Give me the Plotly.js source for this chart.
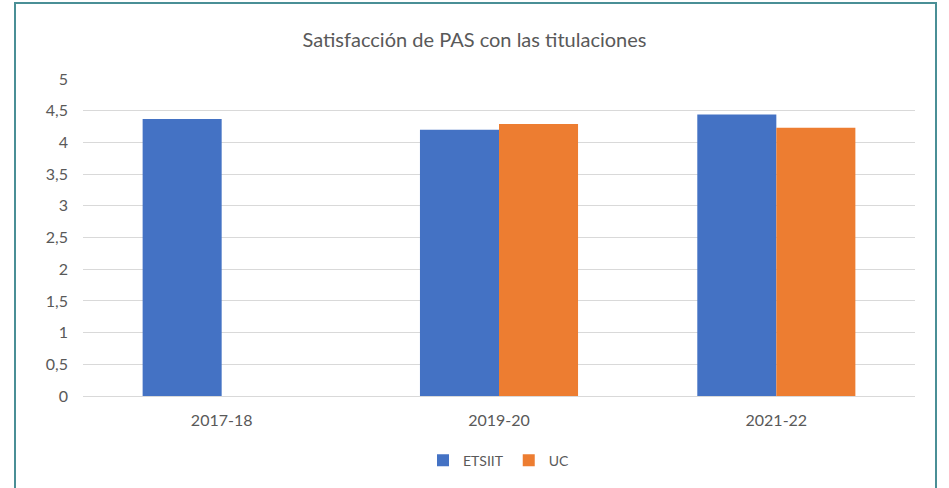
<!DOCTYPE html>
<html>
<head>
<meta charset="utf-8">
<script src="https://cdn.plot.ly/plotly-3.0.1.min.js"></script>
<style>
html,body{margin:0;padding:0;background:#fff;overflow:hidden;}
#chart{width:949px;height:488px;position:absolute;left:0;top:0;}
#frame{position:absolute;left:14px;top:2px;width:919px;height:520px;border:2px solid #4a8f96;pointer-events:none;}
</style>
</head>
<body>
<div id="chart"></div>
<div id="frame"></div>
<script>
const categories = ["2017-18", "2019-20", "2021-22"];
const etsiit = [4.37, 4.20, 4.44];
const uc = [null, 4.29, 4.23];
const yTicks = [0, 0.5, 1, 1.5, 2, 2.5, 3, 3.5, 4, 4.5, 5];

const font = "Lato, 'Open Sans', sans-serif";
const traces = [
  {type: "bar", name: "ETSIIT", x: categories, y: etsiit, marker: {color: "#4472c4"}, hoverinfo: "y"},
  {type: "bar", name: "UC", x: categories, y: uc, marker: {color: "#ed7d31"}, hoverinfo: "y"}
];
const layout = {
  width: 949, height: 488,
  margin: {l: 83, r: 34, t: 79, b: 90},
  paper_bgcolor: "#fff", plot_bgcolor: "#fff",
  separators: ",.",
  barmode: "group", bargap: 0.43, bargroupgap: 0,
  title: {text: "Satisfacción de PAS con las titulaciones", font: {family: font, size: 20, color: "#595959"},
          x: 0.5, xanchor: "center", y: 1 - 40/488, yanchor: "middle", yref: "container"},
  xaxis: {type: "category", tickfont: {family: font, size: 16, color: "#595959"}, showgrid: false,
          showline: true, linecolor: "#d9d9d9", linewidth: 1, ticks: "", ticklabelstandoff: 10},
  yaxis: {range: [0, 5], tickvals: yTicks, tickfont: {family: font, size: 16, color: "#595959"},
          showgrid: true, gridcolor: "#d9d9d9", gridwidth: 1, zeroline: false, showline: false, ticks: "",
          ticklabelstandoff: 14},
  legend: {orientation: "h", x: 0.5, xanchor: "center", y: (398 - 463) / 319, yanchor: "middle",
           font: {family: font, size: 14, color: "#595959"}, itemwidth: 30, tracegroupgap: 0},
  showlegend: true
};
Plotly.newPlot("chart", traces, layout, {displayModeBar: false, staticPlot: true});
</script>
</body>
</html>
